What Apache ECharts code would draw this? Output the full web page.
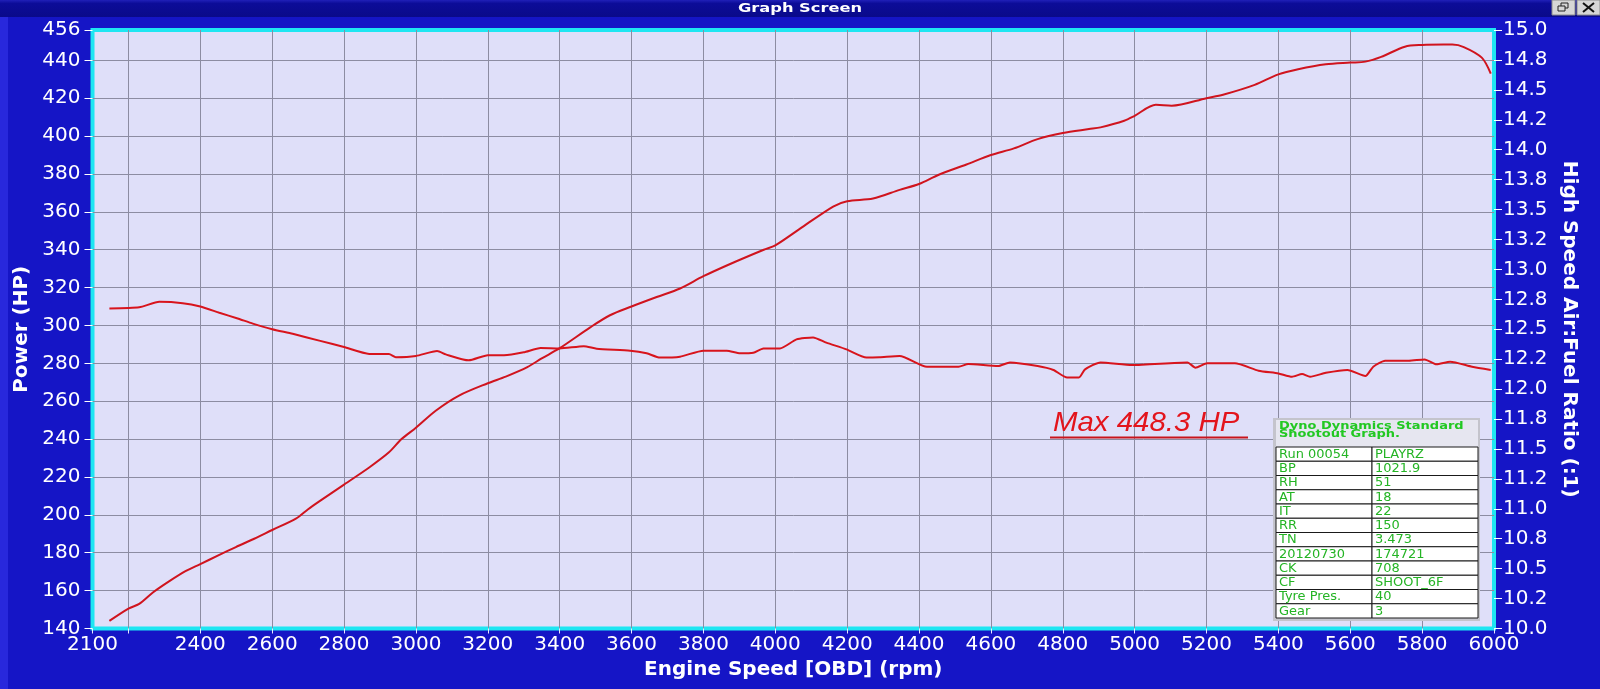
<!DOCTYPE html>
<html>
<head>
<meta charset="utf-8">
<script src="https://cdn.jsdelivr.net/npm/echarts@6/dist/echarts.min.js"></script>
<style>
html,body{margin:0;padding:0;background:#1515c6;}
#chart{width:1600px;height:689px;}
</style>
</head>
<body>
<div id="chart"></div>
<script>
// ---- Data ----
const powerRpm = [2147,2200,2230,2268,2314,2360,2400,2450,2499,2550,2600,2666,2700,2730,2800,2870,2925,2960,3000,3055,3120,3200,3250,3310,3350,3400,3485,3540,3600,3670,3735,3800,3876,3968,4000,4068,4161,4200,4272,4346,4400,4455,4532,4600,4664,4730,4800,4873,4905,4971,5000,5059,5103,5200,5246,5334,5400,5455,5532,5600,5642,5686,5752,5800,5860,5884,5916,5966,5991];
const powerHp  = [144,150.5,153,159,165,170.4,174,178.6,183,187.4,192,198,203,207,216,225,233,240,246,255,263,269.5,273,278,282.6,288,299,305.4,310,315,319.5,326,332.6,340,342.3,351,362.8,365.6,367,371.6,374.7,379.6,385,390,393.5,398.4,401.6,403.7,404.6,408.1,410.7,416.5,416,420,421.8,427,432.6,435.3,437.9,438.8,439.3,441.8,447.2,448.1,448.3,448.3,447,441.4,433];

const afrRpm   = [2147,2230,2286,2351,2400,2453,2504,2546,2600,2657,2731,2800,2870,2925,2944,3000,3059,3083,3147,3200,3245,3300,3347,3400,3467,3503,3596,3642,3679,3735,3800,3865,3902,3939,3967,4013,4059,4105,4142,4198,4254,4290,4346,4422,4510,4537,4620,4653,4730,4774,4812,4845,4862,4905,4993,5147,5169,5202,5279,5345,5400,5438,5466,5488,5532,5592,5642,5664,5697,5763,5807,5840,5878,5939,5991];
const afrRatio = [12.674,12.684,12.729,12.718,12.690,12.638,12.590,12.547,12.500,12.462,12.405,12.351,12.294,12.294,12.267,12.277,12.318,12.290,12.240,12.283,12.283,12.307,12.343,12.340,12.359,12.337,12.321,12.299,12.263,12.271,12.321,12.321,12.299,12.304,12.340,12.340,12.415,12.432,12.388,12.332,12.263,12.266,12.277,12.187,12.187,12.209,12.193,12.223,12.193,12.160,12.097,12.097,12.165,12.223,12.201,12.223,12.179,12.215,12.215,12.154,12.131,12.103,12.126,12.103,12.136,12.160,12.109,12.187,12.237,12.237,12.248,12.207,12.229,12.187,12.160];

// ---- Tick labels ----
const rpmTickValues  = [2100,2200,2400,2600,2800,3000,3200,3400,3600,3800,4000,4200,4400,4600,4800,5000,5200,5400,5600,5800,6000];
const rpmLabelValues = [2100,2400,2600,2800,3000,3200,3400,3600,3800,4000,4200,4400,4600,4800,5000,5200,5400,5600,5800,6000];
const afrTickLabels  = ['10.0','10.2','10.5','10.8','11.0','11.2','11.5','11.8','12.0','12.2','12.5','12.8','13.0','13.2','13.5','13.8','14.0','14.2','14.5','14.8','15.0'];

// ---- Texts ----
const windowTitle = 'Graph Screen';
const maxLabel = 'Max 448.3 HP';
const tableTitle = ['Dyno Dynamics Standard', 'Shootout Graph.'];
const tableKeys = ['Run 00054','BP','RH','AT','IT','RR','TN','20120730','CK','CF','Tyre Pres.','Gear'];
const tableVals = ['PLAYRZ','1021.9','51','18','22','150','3.473','174721','708','SHOOT_6F','40','3'];

// ---- Graphic elements (decoration / info box) ----
const FONT = '"DejaVu Sans", "Liberation Sans", sans-serif';
const graphics = [];
graphics.push({type:'rect', z:0, shape:{x:0,y:0,width:1600,height:17},
  style:{fill:new echarts.graphic.LinearGradient(0,0,0,1,[{offset:0,color:'#2020b8'},{offset:0.2,color:'#0c0c98'},{offset:1,color:'#0a0a8a'}])}});
graphics.push({type:'rect', z:0, shape:{x:0,y:17,width:8,height:672}, style:{fill:'#2828dc'}});
graphics.push({type:'text', z:1, x:800, y:8.5, scaleX:1.25, style:{x:0,y:0,text:windowTitle,align:'center',verticalAlign:'middle',fill:'#ffffff',font:'bold 13px '+FONT}});
// window buttons
graphics.push({type:'rect', z:1, shape:{x:1552,y:0,width:23,height:15}, style:{fill:'#d6d6d6',stroke:'#8a8a8a',lineWidth:1}});
graphics.push({type:'rect', z:2, shape:{x:1561,y:3,width:7,height:5}, style:{fill:'none',stroke:'#222',lineWidth:1}});
graphics.push({type:'rect', z:2, shape:{x:1558,y:6,width:7,height:5}, style:{fill:'#d6d6d6',stroke:'#222',lineWidth:1}});
graphics.push({type:'rect', z:1, shape:{x:1577,y:0,width:23,height:15}, style:{fill:'#d6d6d6',stroke:'#8a8a8a',lineWidth:1}});
graphics.push({type:'line', z:2, shape:{x1:1583,y1:3,x2:1594,y2:12}, style:{stroke:'#111',lineWidth:2}});
graphics.push({type:'line', z:2, shape:{x1:1594,y1:3,x2:1583,y2:12}, style:{stroke:'#111',lineWidth:2}});

// Max label
graphics.push({type:'text', z:100, x:1053, y:437, scaleX:1.05, style:{x:0,y:0,text:maxLabel,fill:'#e3141c',font:'italic 28px "Liberation Sans", Arial, sans-serif',verticalAlign:'bottom'}});
graphics.push({type:'line', z:100, shape:{x1:1050,y1:437.5,x2:1248,y2:437.5}, style:{stroke:'#c8141c',lineWidth:2}});

// Info table
const tX = 1276, tY = 420, tW = 202, headH = 27, rowH = 14.25, keyW = 96;
graphics.push({type:'rect', z:100, shape:{x:tX-3,y:tY-2,width:tW+5,height:headH+rowH*tableKeys.length+5}, style:{fill:'#c4c4cc'}});
graphics.push({type:'rect', z:101, shape:{x:tX,y:tY,width:tW,height:headH}, style:{fill:'#e6e6f0'}});
graphics.push({type:'text', z:102, x:tX+3, y:tY+2, scaleX:1.3, style:{x:0,y:0,text:tableTitle.join('\n'),fill:'#22c822',font:'bold 10px '+FONT,lineHeight:8.5}});
tableKeys.forEach((k,i)=>{
  const y = tY + headH + i*rowH;
  graphics.push({type:'rect', z:101, shape:{x:tX,y:y,width:keyW,height:rowH}, style:{fill:'#ffffff',stroke:'#1a1a1a',lineWidth:1}});
  graphics.push({type:'rect', z:101, shape:{x:tX+keyW,y:y,width:tW-keyW,height:rowH}, style:{fill:'#ffffff',stroke:'#1a1a1a',lineWidth:1}});
  graphics.push({type:'text', z:102, x:tX+3, y:y+rowH/2+0.5, scaleX:1.08, style:{x:0,y:0,text:k,fill:'#24b424',font:'12px '+FONT,verticalAlign:'middle'}});
  graphics.push({type:'text', z:102, x:tX+keyW+3, y:y+rowH/2+0.5, scaleX:1.08, style:{x:0,y:0,text:tableVals[i],fill:'#24b424',font:'12px '+FONT,verticalAlign:'middle'}});
});

const chart = echarts.init(document.getElementById('chart'));
chart.setOption({
  animation: false,
  backgroundColor: '#1515c6',
  textStyle: {fontFamily: FONT},
  grid: {left:92.5, right:106, top:30, bottom:60.5, show:true, backgroundColor:'#dfdff9', borderColor:'#1ee6f2', borderWidth:4, containLabel:false},
  xAxis: {
    type:'value', min:2100, max:6000,
    name:'Engine Speed [OBD] (rpm)', nameLocation:'middle', nameGap:28,
    nameTextStyle:{color:'#ffffff', fontSize:20, fontWeight:'bold', fontFamily:FONT},
    axisLine:{show:false},
    axisTick:{show:true, length:5, customValues: rpmTickValues, lineStyle:{color:'#e8e8ff'}},
    axisLabel:{color:'#ffffff', fontSize:20, margin:6, customValues: rpmLabelValues, fontFamily:FONT,
      formatter:(v)=>String(v)},
    splitLine:{show:true, showMinLine:false, showMaxLine:false, lineStyle:{color:'#8c8ca2', width:1}}
  },
  yAxis: [{
    type:'value', min:140, max:456, interval:20, position:'left',
    name:'Power (HP)', nameLocation:'middle', nameGap:58,
    nameTextStyle:{color:'#ffffff', fontSize:20, fontWeight:'bold', fontFamily:FONT},
    axisLine:{show:false},
    axisTick:{show:true, length:8, lineStyle:{color:'#ffffff'}},
    axisLabel:{color:'#ffffff', fontSize:20, margin:12, fontFamily:FONT, formatter:(v)=>String(v)},
    splitLine:{show:true, showMinLine:false, showMaxLine:false, lineStyle:{color:'#8c8ca2', width:1}}
  },{
    type:'value', min:10, max:15, interval:0.25, position:'right',
    name:'High Speed Air:Fuel Ratio (:1)', nameLocation:'middle', nameGap:65, nameRotate:-90,
    nameTextStyle:{color:'#ffffff', fontSize:20, fontWeight:'bold', fontFamily:FONT},
    axisLine:{show:false},
    axisTick:{show:true, length:8, lineStyle:{color:'#ffffff'}},
    axisLabel:{color:'#ffffff', fontSize:20, margin:9, fontFamily:FONT,
      formatter:(v)=>afrTickLabels[Math.round((v-10)/0.25)]},
    splitLine:{show:false}
  }],
  series: [{
    name:'Power', type:'line', yAxisIndex:0, showSymbol:false, z:5, smooth:0.3,
    data: powerRpm.map((r,i)=>[r, powerHp[i]]),
    lineStyle:{color:'#d0141e', width:2}
  },{
    name:'AFR', type:'line', yAxisIndex:1, showSymbol:false, z:5, smooth:0.2,
    data: afrRpm.map((r,i)=>[r, afrRatio[i]]),
    lineStyle:{color:'#d8141c', width:2}
  }],
  graphic: graphics
});
</script>
</body>
</html>
